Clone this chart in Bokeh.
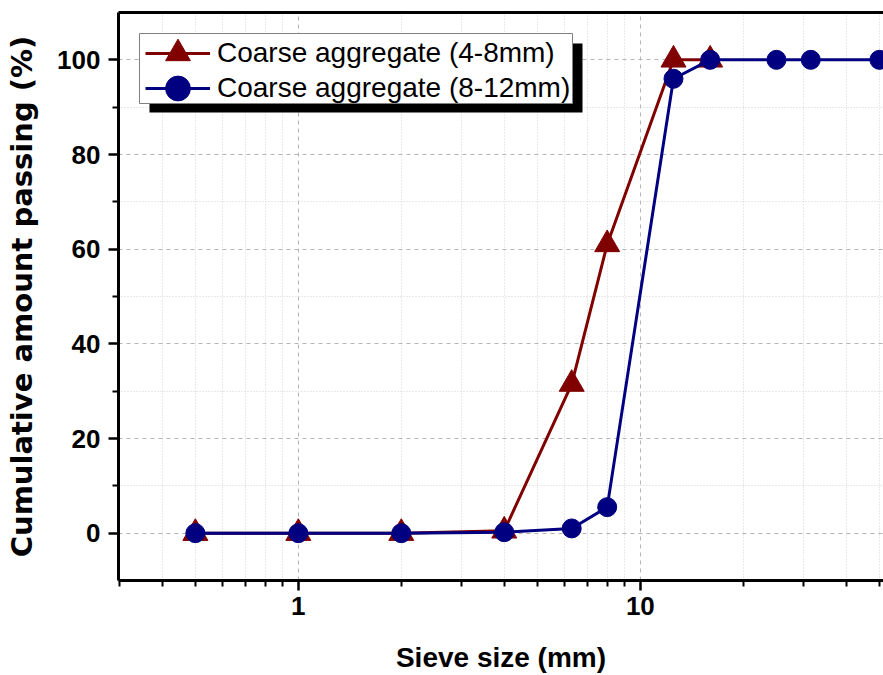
from bokeh.plotting import figure
from bokeh.models import (FixedTicker, Legend, LegendItem, BoxAnnotation, LogAxis,
                          PrintfTickFormatter, Range1d)
from bokeh.embed import file_html
from bokeh.resources import INLINE

# ---- data ----
sieve_4_8 = [0.5, 1, 2, 4, 6.3, 8, 12.5, 16]
pass_4_8 = [0, 0, 0, 0.5, 31.5, 61, 100, 100]
sieve_8_12 = [0.5, 1, 2, 4, 6.3, 8, 12.5, 16, 25, 31.5, 50]
pass_8_12 = [0, 0, 0, 0.2, 1, 5.5, 96, 100, 100, 100, 100]
label_4_8 = "Coarse aggregate (4-8mm)"
label_8_12 = "Coarse aggregate (8-12mm)"
x_major = [1, 10]
x_minor = [0.3, 0.4, 0.5, 0.6, 0.7, 0.8, 0.9, 2, 3, 4, 5, 6, 7, 8, 9, 20, 30, 40, 50]
y_major = [0, 20, 40, 60, 80, 100]
y_minor = [10, 30, 50, 70, 90]

RED = "#800000"
BLUE = "#000080"

p = figure(width=883, height=675, x_axis_type="log",
           x_range=Range1d(0.298, 51.4), y_range=Range1d(-10, 110),
           output_backend="svg", toolbar_location=None,
           min_border_left=118, min_border_right=0, min_border_top=12, min_border_bottom=95)
p.outline_line_color = None
p.background_fill_color = "white"
p.border_fill_color = "white"

# ticks
p.xaxis.ticker = FixedTicker(ticks=x_major, minor_ticks=x_minor)
p.xaxis.formatter = PrintfTickFormatter(format="%d")
p.yaxis.ticker = FixedTicker(ticks=y_major, minor_ticks=y_minor)

for ax in (p.xaxis[0], p.yaxis[0]):
    ax.axis_line_width = 3
    ax.axis_line_color = "black"
    ax.major_tick_line_width = 2.5
    ax.minor_tick_line_width = 2
    ax.major_tick_out = 10
    ax.major_tick_in = 0
    ax.minor_tick_out = 6
    ax.minor_tick_in = 0
    ax.major_label_text_font = "Liberation Sans"
    ax.major_label_text_font_style = "bold"
    ax.major_label_text_font_size = "26px"
    ax.major_label_text_color = "black"
    ax.axis_label_text_font_style = "bold"
    ax.axis_label_text_color = "black"

p.xaxis.major_label_standoff = 6
p.xaxis.axis_label = "Sieve size (mm)"
p.xaxis.axis_label_text_font = "Liberation Sans"
p.xaxis.axis_label_text_font_size = "28px"
p.xaxis.axis_label_standoff = 24

p.yaxis.major_label_standoff = 8
p.yaxis.axis_label = "Cumulative amount passing (%)"
p.yaxis.axis_label_text_font = "DejaVu Sans"
p.yaxis.axis_label_text_font_size = "29px"
p.yaxis.axis_label_standoff = 15

# top border as an empty axis
top_axis = LogAxis(ticker=FixedTicker(ticks=[]), axis_line_width=3, axis_line_color="black",
                   major_tick_line_color=None, minor_tick_line_color=None,
                   major_label_text_font_size="0px")
p.add_layout(top_axis, "above")

# grids
for g in (p.xgrid[0], p.ygrid[0]):
    g.grid_line_color = "#b4b4b4"
    g.grid_line_dash = "4 4"
    g.grid_line_width = 1
    g.minor_grid_line_color = "#d2d2d2"
    g.minor_grid_line_dash = "1 2"
    g.minor_grid_line_width = 1

# series
r1l = p.line(sieve_4_8, pass_4_8, line_color=RED, line_width=3)
r1m = p.scatter(sieve_4_8, pass_4_8, marker="triangle", size=25,
                fill_color=RED, line_color=RED)
r2l = p.line(sieve_8_12, pass_8_12, line_color=BLUE, line_width=3)
r2m = p.scatter(sieve_8_12, pass_8_12, marker="circle", size=19,
                fill_color=BLUE, line_color=BLUE)

# legend shadow and box (screen units, relative to frame bottom-left)
shadow = BoxAnnotation(left=31, right=464, top=537, bottom=468,
                       left_units="screen", right_units="screen",
                       top_units="screen", bottom_units="screen",
                       fill_color="black", fill_alpha=1, line_color=None)
p.add_layout(shadow)
box = BoxAnnotation(left=21, right=454, top=547, bottom=477,
                    left_units="screen", right_units="screen",
                    top_units="screen", bottom_units="screen",
                    fill_color="white", fill_alpha=1,
                    line_color="#808080", line_width=1, line_alpha=1)
p.add_layout(box)

legend_style = dict(padding=0, spacing=0, margin=0,
                    glyph_width=65, glyph_height=62, label_height=62, label_standoff=7,
                    label_text_font="Liberation Sans", label_text_font_size="28px",
                    label_text_color="black", border_line_color=None,
                    background_fill_alpha=0)
legend1 = Legend(items=[LegendItem(label=label_4_8, renderers=[r1l, r1m])],
                 location=(27, 496), **legend_style)
legend2 = Legend(items=[LegendItem(label=label_8_12, renderers=[r2l, r2m])],
                 location=(27, 461), **legend_style)
p.add_layout(legend1)
p.add_layout(legend2)

open("out.html", "w").write(file_html(p, INLINE))
